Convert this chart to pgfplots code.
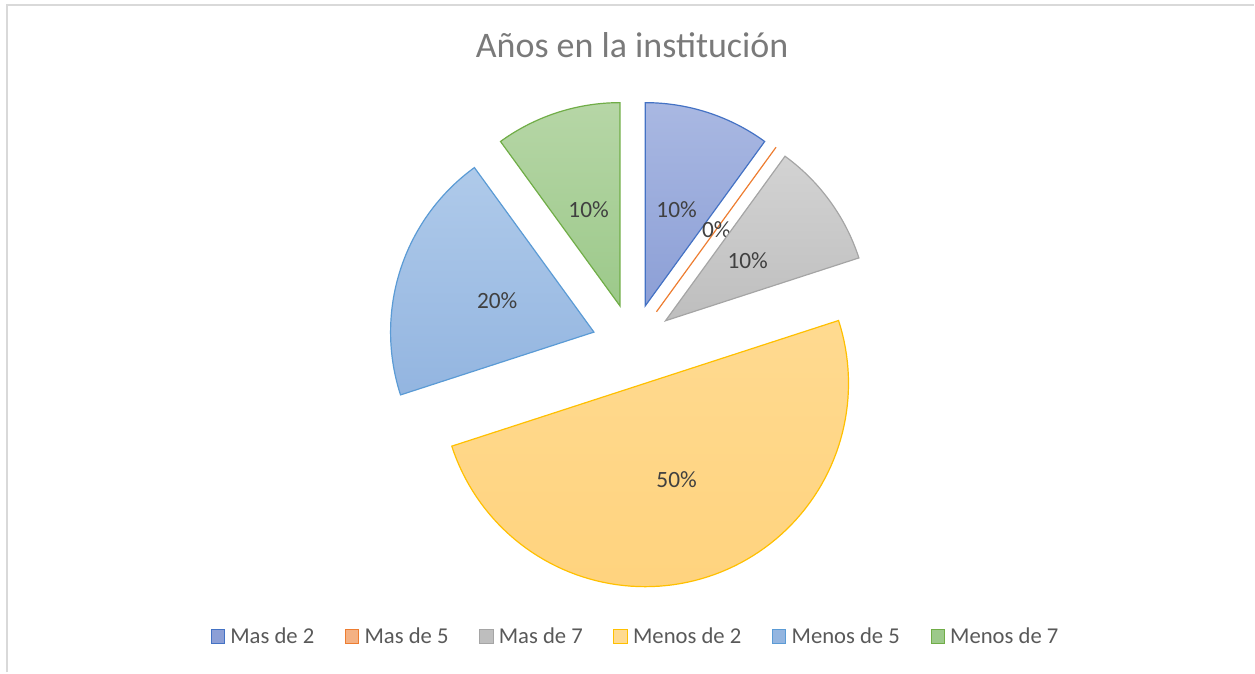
\documentclass[border=0pt]{standalone}
\usepackage{fontspec}
\setmainfont{Carlito}
\usepackage{pgfplots}
\pgfplotsset{compat=1.18}

\definecolor{c1line}{HTML}{4472C4}\definecolor{c1top}{HTML}{A9B8E2}\definecolor{c1bot}{HTML}{8C9FD6}
\definecolor{c2line}{HTML}{ED7D31}\definecolor{c2fill}{HTML}{F4B183}
\definecolor{c3line}{HTML}{A5A5A5}\definecolor{c3top}{HTML}{D3D3D3}\definecolor{c3bot}{HTML}{BEBEBE}
\definecolor{c4line}{HTML}{FFC000}\definecolor{c4top}{HTML}{FFDA90}\definecolor{c4bot}{HTML}{FFD37E}
\definecolor{c5line}{HTML}{5B9BD5}\definecolor{c5top}{HTML}{AFCAEA}\definecolor{c5bot}{HTML}{93B5E0}
\definecolor{c6line}{HTML}{70AD47}\definecolor{c6top}{HTML}{B6D6A6}\definecolor{c6bot}{HTML}{9CC98A}
\definecolor{titlegray}{HTML}{7A7A7A}
\definecolor{labelgray}{HTML}{404040}
\definecolor{legendgray}{HTML}{595959}
\definecolor{framegray}{HTML}{D9D9D9}

% exploded pie slice: #1 = percent before it, #2 = its percent, #3 = style
\newcommand\slice[3]{%
  \pgfmathsetmacro\aS{90-3.6*#1}%
  \pgfmathsetmacro\aE{90-3.6*(#1+#2)}%
  \pgfmathsetmacro\aM{90-3.6*(#1+#2/2)}%
  \pgfmathsetmacro\ox{0.2*cos(\aM)}%
  \pgfmathsetmacro\oy{0.2*sin(\aM)}%
  \pgfmathsetmacro\lx{0.7*cos(\aM)}%
  \pgfmathsetmacro\ly{0.7*sin(\aM)}%
  \ifdim #2pt=0pt
    \edef\sampling{samples at={\aS}}%
  \else
    \edef\sampling{domain=\aE:\aS, samples=91}%
  \fi
  \edef\doslice{%
    \noexpand\addplot[#3, line width=0.9pt, forget plot, \sampling]
      ({\ox+cos(x)},{\oy+sin(x)}) -- (axis cs:\ox,\oy) -- cycle;
    \noexpand\node[pctlabel] at (axis cs:\lx,\ly) {#2\noexpand\%};}%
  \doslice}

\begin{document}
\begin{tikzpicture}[pctlabel/.style={font=\fontsize{17.5}{20}\selectfont, text=labelgray, anchor=center, inner sep=0pt}]
\begin{axis}[
    x=152.625pt, y=152.625pt,
    xmin=-3.111, xmax=3.057,
    ymin=-1.612, ymax=1.695,
    hide axis,
    clip=false,
    every axis title shift=0pt,
    title={Años en la institución},
    title style={at={(rel axis cs:0.504,0.915)}, anchor=base, inner sep=0pt,
        font=\fontsize{27}{30}\selectfont, text=titlegray},
    legend columns=6,
    legend style={at={(rel axis cs:0.507,0.0535)}, anchor=center,
        draw=none, fill=none, font=\fontsize{17}{20}\selectfont, text=legendgray,
        /tikz/every even column/.append style={column sep=21pt},
        /tikz/every odd column/.append style={column sep=2pt}},
    legend image code/.code={\draw[#1, line width=0.75pt] (0pt,-5pt) rectangle (10pt,5.5pt);},
]
\path (rel axis cs:0,0) rectangle (rel axis cs:1,1);
\draw[framegray, line width=1.2pt] (axis cs:-3.076,-1.612) -- (axis cs:-3.076,1.671) -- (axis cs:3.057,1.671);

\slice{0}{10}{draw=c1line, top color=c1top, bottom color=c1bot}
\slice{10}{0}{draw=c2line}
\slice{10}{10}{draw=c3line, top color=c3top, bottom color=c3bot}
\slice{20}{50}{draw=c4line, top color=c4top, bottom color=c4bot}
\slice{70}{20}{draw=c5line, top color=c5top, bottom color=c5bot}
\slice{90}{10}{draw=c6line, top color=c6top, bottom color=c6bot}

\addlegendimage{draw=c1line, fill=c1bot}
\addlegendentry{Mas de 2}
\addlegendimage{draw=c2line, fill=c2fill}
\addlegendentry{Mas de 5}
\addlegendimage{draw=c3line, fill=c3bot}
\addlegendentry{Mas de 7}
\addlegendimage{draw=c4line, fill=c4top}
\addlegendentry{Menos de 2}
\addlegendimage{draw=c5line, fill=c5bot}
\addlegendentry{Menos de 5}
\addlegendimage{draw=c6line, fill=c6bot}
\addlegendentry{Menos de 7}
\end{axis}
\end{tikzpicture}
\end{document}
